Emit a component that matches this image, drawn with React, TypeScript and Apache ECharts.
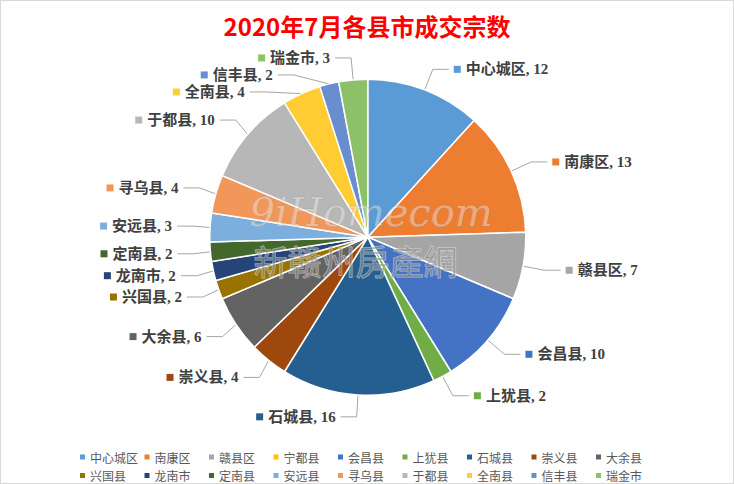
import React, { useEffect, useRef } from "react";
import * as echarts from "echarts";

const titleText = "2020年7月各县市成交宗数";
const categories = [
  "中心城区", "南康区", "赣县区", "宁都县", "会昌县", "上犹县", "石城县", "崇义县", "大余县",
  "兴国县", "龙南市", "定南县", "安远县", "寻乌县", "于都县", "全南县", "信丰县", "瑞金市",
];
const values = [12, 13, 7, 0, 10, 2, 16, 4, 6, 2, 2, 2, 3, 4, 10, 4, 2, 3];
const colors = [
  "#5B9BD5", "#ED7D31", "#A5A5A5", "#FFC000", "#4472C4", "#70AD47", "#255E91", "#9E480E", "#636363",
  "#997300", "#264478", "#43682B", "#7CAFDD", "#F1975A", "#B7B7B7", "#FFCD33", "#698ED0", "#8CC168",
];

export default function App() {
  const ref = useRef<HTMLDivElement>(null);
  useEffect(() => {
    document.body.style.margin = "0";
    const chart = echarts.init(ref.current!, null, { renderer: "svg" });
    const rich: Record<string, any> = {
      t: {
        fontSize: 15,
        fontWeight: "bold",
        color: "#404040",
        fontFamily: "'Liberation Serif', 'Noto Sans CJK SC', serif",
        padding: [0, 0, 0, 5],
      },
    };
    colors.forEach((c, i) => {
      rich["s" + i] = { width: 7, height: 7, backgroundColor: c };
    });
    const data = categories.map((name, i) => {
      const item: any = { name, value: values[i] };
      if (values[i] === 0) {
        item.label = { show: false };
        item.labelLine = { show: false };
      }
      return item;
    });
    chart.setOption({
      animation: false,
      color: colors,
      title: {
        text: titleText,
        left: "center",
        top: 7,
        textStyle: {
          color: "#FF0000",
          fontSize: 24,
          fontWeight: "bold",
          fontFamily: "'Noto Sans CJK SC', sans-serif",
        },
      },
      legend: {
        data: categories,
        left: "center",
        top: 443,
        width: 590,
        icon: "rect",
        itemWidth: 7,
        itemHeight: 7,
        itemGap: 2.5,
        textStyle: {
          fontSize: 12,
          color: "#595959",
          width: 50,
          lineHeight: 16,
          padding: [0, 0, 0, -1],
          fontFamily: "'Noto Sans CJK SC', sans-serif",
        },
      },
      graphic: [
        {
          type: "text",
          left: 248,
          top: 190,
          style: {
            text: "9iHomecom",
            font: "italic 40px 'DejaVu Serif', serif",
            fill: "rgba(255,255,255,0.35)",
            stroke: "rgba(150,150,150,0.35)",
            lineWidth: 1,
          },
          z: 100,
        },
        {
          type: "text",
          left: 252,
          top: 242,
          style: {
            text: "新赣州房產網",
            font: "34px 'Noto Sans CJK TC', sans-serif",
            fill: "rgba(140,140,140,0.55)",
            stroke: "rgba(255,255,255,0.5)",
            lineWidth: 1,
          },
          z: 100,
        },
      ],
      series: [
        {
          type: "pie",
          center: ["50.1%", "49%"],
          radius: 158,
          startAngle: 90,
          clockwise: true,
          data,
          itemStyle: { borderColor: "#ffffff", borderWidth: 1.5 },
          label: {
            show: true,
            formatter: (p: any) => `{s${p.dataIndex}|}{t|${p.name}, ${p.value}}`,
            rich,
          },
          labelLine: {
            show: true,
            length: 22,
            length2: 16,
            lineStyle: { color: "#A6A6A6", width: 1 },
          },
          emphasis: { disabled: true },
        },
      ],
    });
    return () => chart.dispose();
  }, []);
  return (
    <div
      ref={ref}
      style={{
        position: "absolute",
        left: 0,
        top: 0,
        width: 734,
        height: 484,
        border: "1px solid #D9D9D9",
        boxSizing: "border-box",
        background: "#fff",
      }}
    />
  );
}
